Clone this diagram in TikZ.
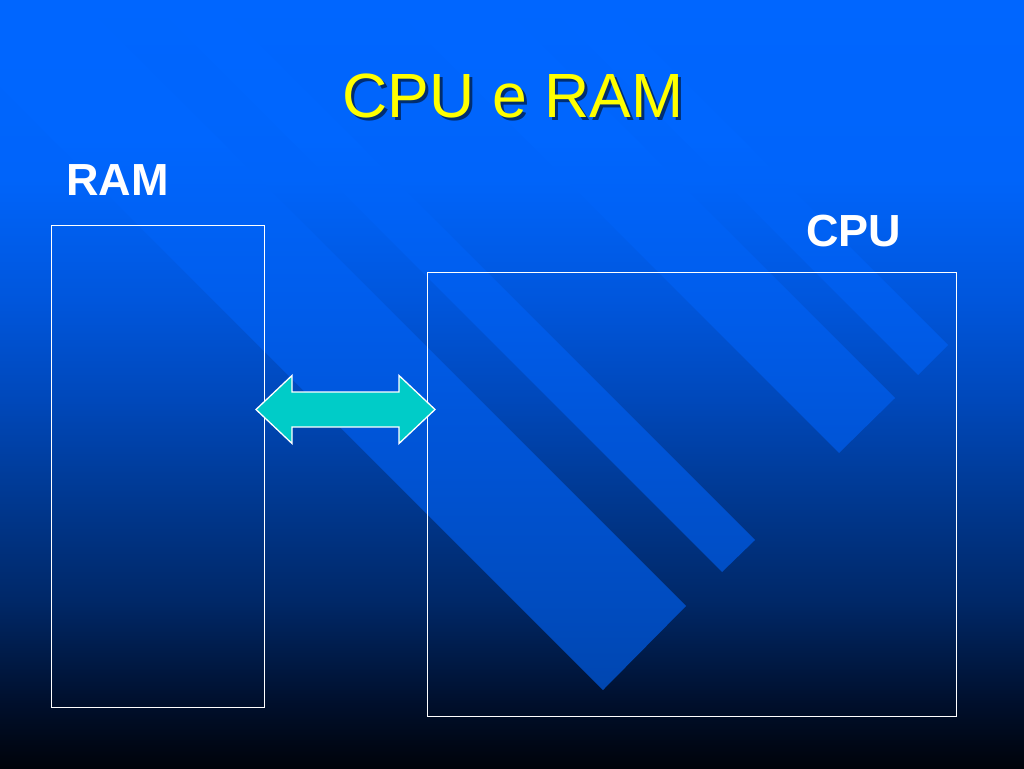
\documentclass[tikz,border=0pt]{standalone}
\usepackage{fontspec}
\setmainfont{Liberation Sans}
\definecolor{bgtop}{HTML}{0066FF}
\definecolor{bgb}{HTML}{0064FA}
\definecolor{bgc}{HTML}{0056DC}
\definecolor{bgd}{HTML}{0048BA}
\definecolor{bge}{HTML}{003890}
\definecolor{bgf}{HTML}{002868}
\definecolor{bgg}{HTML}{00102E}
\definecolor{bgbot}{HTML}{00030A}
\definecolor{stA}{HTML}{0066FF}
\definecolor{stB}{HTML}{0066FE}
\definecolor{stC}{HTML}{005DEC}
\definecolor{stD}{HTML}{0054D6}
\definecolor{stE}{HTML}{004CC0}
\definecolor{stF}{HTML}{0046B0}
\definecolor{stG}{HTML}{0042A6}
\definecolor{buscyan}{HTML}{00CCC8}
\definecolor{titleyellow}{HTML}{FFFF00}
% background and stripe gradients (25bp = bottom, 75bp = top)
\pgfdeclareverticalshading{slidebg}{100bp}{color(0bp)=(bgbot); color(25bp)=(bgbot);
  color(29.43bp)=(bgg); color(35.94bp)=(bgf); color(42.45bp)=(bge); color(48.96bp)=(bgd);
  color(55.47bp)=(bgc); color(63.28bp)=(bgb); color(75bp)=(bgtop); color(100bp)=(bgtop)}
\pgfdeclareverticalshading{stripebg}{100bp}{color(0bp)=(stG); color(25bp)=(stG);
  color(30.08bp)=(stF); color(35.94bp)=(stE); color(45.70bp)=(stD);
  color(55.47bp)=(stC); color(66.0bp)=(stB); color(75bp)=(stA); color(100bp)=(stA)}
\tikzset{
  membox/.style={draw=white, line width=1.3pt, rectangle, inner sep=0pt, anchor=north west},
  boxlabel/.style={text=white, font=\fontsize{45}{54}\selectfont\bfseries, inner sep=0pt, anchor=base west},
  slidetitle/.style={font=\fontsize{62.5}{75}\selectfont, inner sep=0pt, anchor=base}
}
\begin{document}
\begin{tikzpicture}[x=1pt, y=-1pt]
  \useasboundingbox (0,0) rectangle (1024,768);
  \shade[shading=slidebg] (0,0) rectangle (1024,768);
  % diagonal stripes
  \foreach \ax/\ay/\bx/\by in {603/690/686/606, 722/572/755/540, 839/453/895/398, 918/375/948/345}{
    \begin{scope}
      \clip (\ax,\ay) -- (\bx,\by) -- ({\bx-\by},0) -- ({\ax-\ay},0) -- cycle;
      \shade[shading=stripebg] (0,0) rectangle (1024,768);
    \end{scope}
  }
  \node[membox, minimum width=213pt, minimum height=482pt] (ram) at (51,225) {};
  \node[membox, minimum width=529pt, minimum height=444pt] (cpu) at (427,272) {};
  % bus arrow
  \draw[white, line width=1.3pt, fill=buscyan, line join=miter]
    (256,409.5) -- (292,375.5) -- (292,392) -- (399,392) -- (399,375.5) -- (435,409.5)
    -- (399,443.5) -- (399,427) -- (292,427) -- (292,443.5) -- cycle;
  \node[slidetitle, text=black, opacity=0.55] (titleshadow) at (516,120) {CPU e RAM};
  \node[slidetitle, text=titleyellow] (title) at (513,117) {CPU e RAM};
  \node[boxlabel] (ramlabel) at (66,195) {RAM};
  \node[boxlabel] (cpulabel) at (806,246) {CPU};
\end{tikzpicture}
\end{document}
